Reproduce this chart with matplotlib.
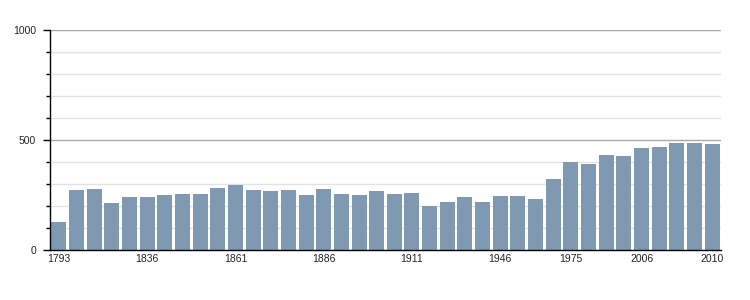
"""Population chart: bars per census year, light grid, sparse year labels."""

import matplotlib
matplotlib.use("Agg")
import matplotlib.pyplot as plt
import numpy as np
from matplotlib.ticker import MultipleLocator

# --- data -------------------------------------------------------------------
years = [1793, 1800, 1806, 1821, 1831, 1836, 1841, 1846, 1851, 1856,
         1861, 1866, 1872, 1876, 1881, 1886, 1891, 1896, 1901, 1906,
         1911, 1921, 1926, 1931, 1936, 1946, 1954, 1962, 1968, 1975,
         1982, 1990, 1999, 2006, 2007, 2008, 2009, 2010]
population = [129, 273, 277, 215, 241, 241, 250, 255, 255, 282,
              295, 273, 268, 273, 250, 277, 255, 250, 268, 255,
              259, 200, 218, 241, 218, 245, 245, 232, 323, 400,
              391, 432, 427, 464, 468, 486, 486, 482]
labelled_years = [1793, 1836, 1861, 1886, 1911, 1946, 1975, 2006, 2010]

BAR_COLOR = "#7f99b2"
TEXT_COLOR = "#222222"

plt.rcParams["font.family"] = ["Liberation Sans", "DejaVu Sans"]

fig = plt.figure(figsize=(7.5, 3.0), dpi=100)
ax = fig.add_axes([0.0667, 0.1667, 0.8946, 0.7333])

x = np.arange(len(years))
ax.bar(x, population, width=0.85, color=BAR_COLOR, zorder=3)

# Ось Y: 0..1000, подписи 0/500/1000, мелкие деления через 100.
ax.set_ylim(0, 1000)
ax.yaxis.set_major_locator(MultipleLocator(500))
ax.yaxis.set_minor_locator(MultipleLocator(100))
ax.grid(axis="y", which="minor", color="#e2e2e2", lw=1, zorder=1)
ax.grid(axis="y", which="major", color="#aaaaaa", lw=1, zorder=2)
ax.tick_params(axis="y", which="major", length=5, width=1, labelsize=7.5,
               labelcolor=TEXT_COLOR, pad=5)
ax.tick_params(axis="y", which="minor", length=3, width=1)

# Ось X: подписи только у выбранных лет.
ax.set_xlim(-0.5, len(years) - 0.5)
ax.set_xticks([years.index(y) for y in labelled_years])
ax.set_xticklabels([str(y) for y in labelled_years])
ax.tick_params(axis="x", length=0, labelsize=7.5, labelcolor=TEXT_COLOR, pad=3)

for side in ("top", "right"):
    ax.spines[side].set_visible(False)
for side in ("left", "bottom"):
    ax.spines[side].set_color("black")
    ax.spines[side].set_linewidth(1)
    ax.spines[side].set_zorder(4)

fig.savefig("out.png", dpi=100)
